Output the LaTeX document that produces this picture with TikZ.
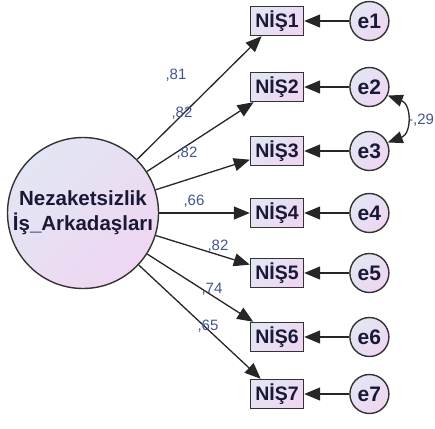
\documentclass[tikz,border=0pt]{standalone}
\usepackage{fontspec}
\setmainfont{Liberation Sans}
\usepackage{tikz}
\usetikzlibrary{positioning,arrows.meta,shapes,calc}
\usepackage{xcolor}
\definecolor{ShadeBlue}{RGB}{226,230,243}
\definecolor{ShadePink}{RGB}{239,214,242}
\definecolor{LabelBlue}{RGB}{65,85,145}
\definecolor{TextDark}{RGB}{25,25,55}

\begin{document}
\begin{tikzpicture}[x=1pt, y=1pt,
    latent/.style={circle, draw=black!80, line width=1.4pt,
                   top color=ShadeBlue, bottom color=ShadePink, shading angle=45,
                   minimum size=151pt, inner sep=0pt, align=center,
                   text=TextDark, font=\fontsize{20.5}{25}\selectfont\bfseries},
    item/.style={rectangle, draw=black!80, line width=1.4pt,
                 top color=ShadeBlue, bottom color=ShadePink, shading angle=45,
                 minimum width=53pt, minimum height=29pt, inner sep=0pt,
                 text=TextDark, font=\fontsize{19.5}{20}\selectfont\bfseries},
    err/.style={circle, draw=black!80, line width=1.4pt,
                top color=ShadeBlue, bottom color=ShadePink, shading angle=45,
                minimum size=39pt, inner sep=0pt,
                text=TextDark, font=\fontsize{21}{22}\selectfont\bfseries},
    weight/.style={text=LabelBlue, font=\fontsize{15}{16}\selectfont},
    arrow/.style={-{Triangle[length=16pt, width=13pt]}, line width=1.3pt, draw=black!85},
    covarrow/.style={{Triangle[length=15pt, width=12pt]}-{Triangle[length=15pt, width=12pt]},
                     line width=1.3pt, draw=black!85}
]
    \useasboundingbox (0,0) rectangle (435,-428);

    \node[latent] (lat) at (83,-213) {Nezaketsizlik\\İş\_Arkadaşları};

    \node[item] (n1) at (277,-21) {NİŞ1};
    \node[item] (n2) at (277,-87) {NİŞ2};
    \node[item] (n3) at (277,-151) {NİŞ3};
    \node[item] (n4) at (277,-213) {NİŞ4};
    \node[item] (n5) at (277,-273) {NİŞ5};
    \node[item] (n6) at (277,-337) {NİŞ6};
    \node[item] (n7) at (277,-394) {NİŞ7};

    \node[err, right=45pt of n1] (e1) {e1};
    \node[err, right=45pt of n2] (e2) {e2};
    \node[err, right=45pt of n3] (e3) {e3};
    \node[err, right=45pt of n4] (e4) {e4};
    \node[err, right=45pt of n5] (e5) {e5};
    \node[err, right=45pt of n6] (e6) {e6};
    \node[err, right=45pt of n7] (e7) {e7};

    % loadings
    \draw[arrow] (lat) -- (n1);
    \draw[arrow] (lat) -- (n2);
    \draw[arrow] (lat) -- (n3);
    \draw[arrow] (lat) -- (n4);
    \draw[arrow] (lat) -- (n5);
    \draw[arrow] (lat) -- (n6);
    \draw[arrow] (lat) -- (n7);

    \node[weight] (w1) at (176,-75) {,81};
    \node[weight] (w2) at (182,-113) {,82};
    \node[weight] (w3) at (187,-153) {,82};
    \node[weight] (w4) at (194,-201) {,66};
    \node[weight] (w5) at (218,-246) {,82};
    \node[weight] (w6) at (212,-289) {,74};
    \node[weight] (w7) at (208,-326) {,65};

    % error terms
    \draw[arrow] (e1) -- (n1);
    \draw[arrow] (e2) -- (n2);
    \draw[arrow] (e3) -- (n3);
    \draw[arrow] (e4) -- (n4);
    \draw[arrow] (e5) -- (n5);
    \draw[arrow] (e6) -- (n6);
    \draw[arrow] (e7) -- (n7);

    \draw[covarrow] (e2.-25) to[out=-20, in=20, looseness=1.4] (e3.25);
    \node[weight, anchor=west, inner sep=0pt] (c23) at (408,-120) {-,29};
\end{tikzpicture}
\end{document}
